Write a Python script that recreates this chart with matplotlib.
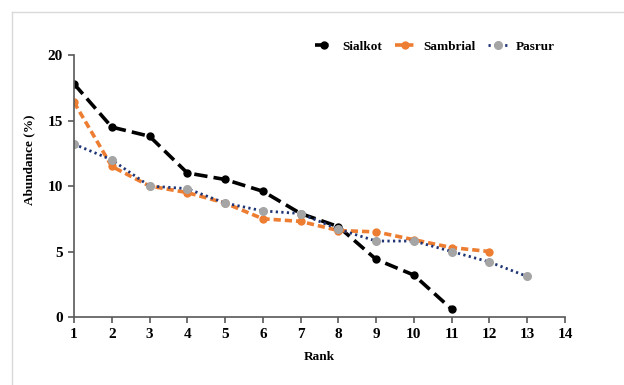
import matplotlib.pyplot as plt
from matplotlib.lines import Line2D

plt.rcParams['font.family'] = ['Liberation Serif', 'DejaVu Serif']
plt.rcParams['font.weight'] = 'bold'

# 数据
rank_sialkot = [1, 2, 3, 4, 5, 6, 7, 8, 9, 10, 11]
sialkot = [17.8, 14.5, 13.8, 11.0, 10.5, 9.6, 7.9, 6.9, 4.4, 3.2, 0.6]
rank_sambrial = [1, 2, 3, 4, 5, 6, 7, 8, 9, 10, 11, 12]
sambrial = [16.4, 11.5, 10.0, 9.5, 8.7, 7.5, 7.3, 6.6, 6.5, 5.9, 5.3, 5.0]
rank_pasrur = [1, 2, 3, 4, 5, 6, 7, 8, 9, 10, 11, 12, 13]
pasrur = [13.2, 12.0, 10.0, 9.8, 8.7, 8.1, 7.9, 6.7, 5.8, 5.8, 5.0, 4.2, 3.1]

fig = plt.figure(figsize=(6.24, 3.85), dpi=100)
ax = fig.add_axes([0.1186, 0.1766, 0.7868, 0.6804])

# 外框（浅灰）
fig.add_artist(Line2D([12 / 624, 1.0], [1 - 12 / 385, 1 - 12 / 385], color='#d9d9d9', lw=1))
fig.add_artist(Line2D([12 / 624, 12 / 624], [0.0, 1 - 12 / 385], color='#d9d9d9', lw=1))

ax.plot(rank_sialkot, sialkot, color='black', lw=2.6, dashes=(3.7, 1.7),
        marker='o', ms=5, mfc='black', mec='black', label='Sialkot')
ax.plot(rank_sambrial, sambrial, color='#ED7D31', lw=2.6, dashes=(2.0, 1.1),
        marker='o', ms=5, mfc='#ED7D31', mec='#ED7D31', label='Sambrial')
ax.plot(rank_pasrur, pasrur, color='#1F3474', lw=2, dashes=(0.8, 1.2),
        marker='o', ms=5.5, mfc='#A5A5A5', mec='#A5A5A5', label='Pasrur')

ax.set_xlim(1, 14)
ax.set_ylim(0, 20)
ax.set_xticks(range(1, 15))
ax.set_yticks([0, 5, 10, 15, 20])

for s in ['top', 'right']:
    ax.spines[s].set_visible(False)
for s in ['left', 'bottom']:
    ax.spines[s].set_color('#595959')
    ax.spines[s].set_linewidth(1.2)
ax.tick_params(axis='both', direction='out', length=4, width=1.2, color='#595959',
               labelsize=11, pad=4)
for lab in ax.get_xticklabels() + ax.get_yticklabels():
    lab.set_fontweight('bold')

ax.set_xlabel('Rank', fontsize=9.5, fontweight='bold', labelpad=7)
ax.set_ylabel('Abundance (%)', fontsize=9.5, fontweight='bold')
ax.yaxis.set_label_coords(-0.079, 0.60)

fig.legend(*ax.get_legend_handles_labels(), loc='center left',
           bbox_to_anchor=(308 / 624, 1 - 47 / 385), ncol=3, frameon=False,
           borderpad=0, fontsize=9.5, handlelength=1.5, handletextpad=0.6,
           columnspacing=1.0)

plt.savefig('out.png', dpi=100)
